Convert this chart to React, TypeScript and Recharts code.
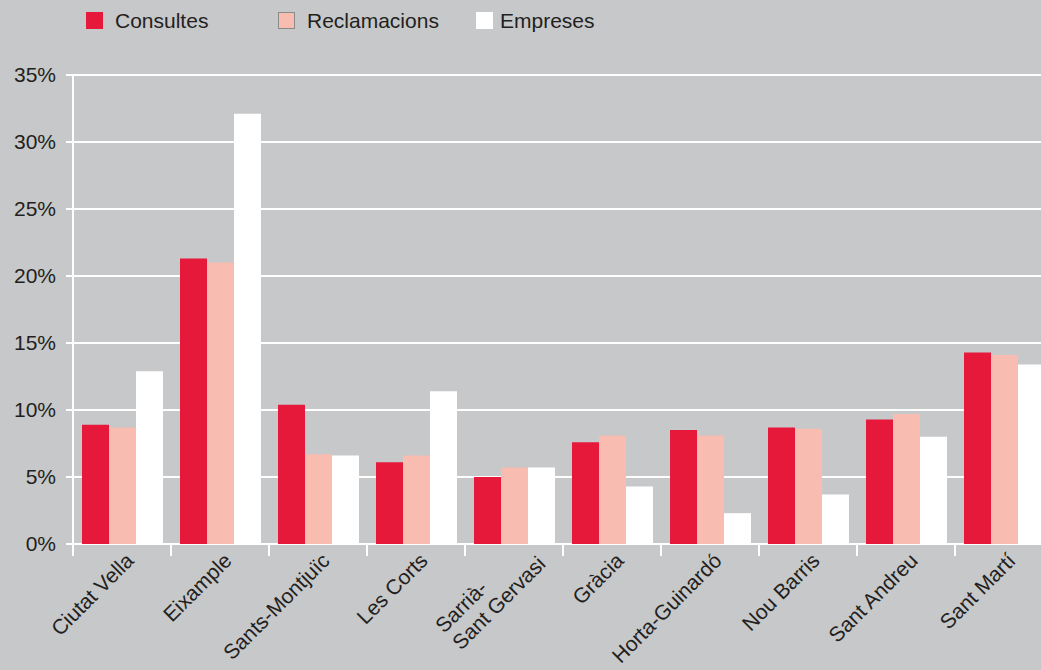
import React from 'react';
import { BarChart, Bar, XAxis, YAxis, CartesianGrid } from 'recharts';

const districts = [
  'Ciutat Vella',
  'Eixample',
  'Sants-Montjuïc',
  'Les Corts',
  'Sarrià-Sant Gervasi',
  'Gràcia',
  'Horta-Guinardó',
  'Nou Barris',
  'Sant Andreu',
  'Sant Martí',
];
const tickLabels = [
  ['Ciutat Vella'],
  ['Eixample'],
  ['Sants-Montjuïc'],
  ['Les Corts'],
  ['Sarrià-', 'Sant Gervasi'],
  ['Gràcia'],
  ['Horta-Guinardó'],
  ['Nou Barris'],
  ['Sant Andreu'],
  ['Sant Martí'],
];
const consultes = [8.9, 21.3, 10.4, 6.1, 5.0, 7.6, 8.5, 8.7, 9.3, 14.3];
const reclamacions = [8.7, 21.0, 6.7, 6.6, 5.7, 8.1, 8.1, 8.6, 9.7, 14.1];
const empreses = [12.9, 32.1, 6.6, 11.4, 5.7, 4.3, 2.3, 3.7, 8.0, 13.4];
const yTicks = [0, 5, 10, 15, 20, 25, 30, 35];

const series = [
  { key: 'consultes', name: 'Consultes', color: '#e6193a', border: '#e6193a' },
  { key: 'reclamacions', name: 'Reclamacions', color: '#f8bcb0', border: '#8a8a8a' },
  { key: 'empreses', name: 'Empreses', color: '#ffffff', border: '#ffffff' },
];

const data = districts.map((name, i) => ({
  name,
  consultes: consultes[i],
  reclamacions: reclamacions[i],
  empreses: empreses[i],
}));

const TEXT = '#231f20';
const FONT = '"Liberation Sans", Arial, Helvetica, sans-serif';
const CHART_W = 1060;
const CHART_H = 670;
const Y_AXIS_W = 73;
const RIGHT = 7;
const X_AXIS_H = 126;
const BASE = CHART_H - X_AXIS_H; // zero line
const BAND = (CHART_W - Y_AXIS_W - RIGHT) / districts.length;

const DistrictTick = (props: any) => {
  const { x, index } = props;
  const y = BASE;
  const lines = tickLabels[index] || [String(props.payload.value)];
  const left = x - BAND / 2;
  const marks = (
    <>
      <line x1={left} y1={y} x2={left} y2={y + 12} stroke="#fff" strokeWidth={2} />
      {index === districts.length - 1 && (
        <line x1={left + BAND} y1={y} x2={left + BAND} y2={y + 12} stroke="#fff" strokeWidth={2} />
      )}
    </>
  );
  if (lines.length === 1) {
    return (
      <g>
        {marks}
        <text
          transform={`translate(${x + 13},${y + 18}) rotate(-45)`}
          textAnchor="end"
          fill={TEXT}
          fontSize={21}
          fontFamily={FONT}
        >
          {lines[0]}
        </text>
      </g>
    );
  }
  return (
    <g>
      {marks}
      <g transform={`translate(${x - 53},${y + 107}) rotate(-45)`}>
        <text x={0} y={-24} textAnchor="start" fill={TEXT} fontSize={21} fontFamily={FONT}>
          {lines[0]}
        </text>
        <text x={0} y={0} textAnchor="start" fill={TEXT} fontSize={21} fontFamily={FONT}>
          {lines[1]}
        </text>
      </g>
    </g>
  );
};

const legendLeft = [86, 278, 476];

export default function App() {
  return (
    <div
      style={{
        position: 'fixed',
        left: 0,
        top: 0,
        width: 1041,
        height: 670,
        overflow: 'hidden',
        background: '#c7c8ca',
        fontFamily: FONT,
      }}
    >
      {series.map((s, i) => (
        <div
          key={s.key}
          style={{ position: 'absolute', left: legendLeft[i], top: 8, display: 'flex', alignItems: 'center', height: 25 }}
        >
          <span
            style={{
              display: 'inline-block',
              width: 15,
              height: 15,
              background: s.color,
              border: `1px solid ${s.border}`,
              marginRight: i === 2 ? 7 : 12,
            }}
          />
          <span style={{ fontSize: 21, color: TEXT }}>{s.name}</span>
        </div>
      ))}
      <div style={{ position: 'absolute', left: 0, top: 0 }}>
        <BarChart
          width={CHART_W}
          height={CHART_H}
          data={data}
          margin={{ top: 75, right: RIGHT, bottom: 0, left: 0 }}
          barCategoryGap={9}
          barGap={0}
        >
          <CartesianGrid horizontal vertical={false} stroke="#fff" strokeWidth={2} />
          <XAxis
            dataKey="name"
            interval={0}
            height={X_AXIS_H}
            axisLine={false}
            tickLine={false}
            tick={<DistrictTick />}
          />
          <YAxis
            domain={[0, 35]}
            ticks={yTicks}
            interval={0}
            width={Y_AXIS_W}
            tickFormatter={(v: number) => `${v}%`}
            axisLine={{ stroke: '#fff', strokeWidth: 2 }}
            tickLine={{ stroke: '#fff', strokeWidth: 2 }}
            tickSize={7}
            tickMargin={10}
            tick={{ fill: TEXT, fontSize: 21, fontFamily: FONT }}
          />
          {series.map((s) => (
            <Bar key={s.key} dataKey={s.key} name={s.name} fill={s.color} isAnimationActive={false} />
          ))}
        </BarChart>
      </div>
    </div>
  );
}
